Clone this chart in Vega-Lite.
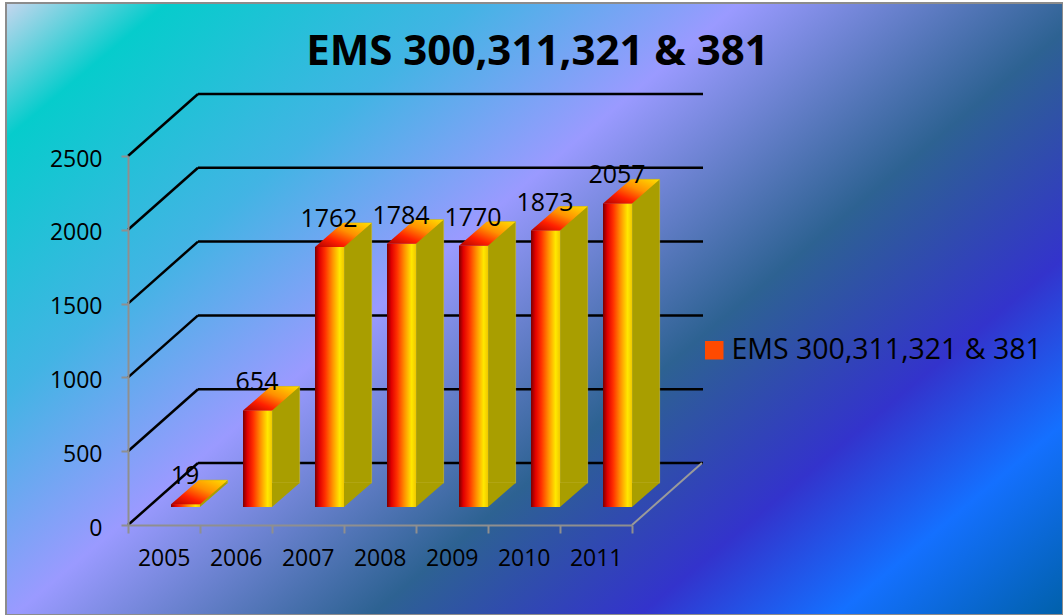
{
  "$schema": "https://vega.github.io/schema/vega-lite/v6.json",
  "width": 1057,
  "height": 612,
  "autosize": {"type": "none"},
  "padding": {"left": 6, "top": 3, "right": 0, "bottom": 0},
  "background": "white",
  "config": {"view": {"stroke": null}, "font": "Open Sans"},
  "title": {"text": "EMS 300,311,321 & 381", "font": "Open Sans", "fontSize": 42, "fontWeight": "bold", "color": "black", "anchor": "middle", "offset": -72, "dx": 3},
  "datasets": {
    "bars": [
      {"year": "2005", "value": 19},
      {"year": "2006", "value": 654},
      {"year": "2007", "value": 1762},
      {"year": "2008", "value": 1784},
      {"year": "2009", "value": 1770},
      {"year": "2010", "value": 1873},
      {"year": "2011", "value": 2057}
    ],
    "grid": [{"v": 0}, {"v": 500}, {"v": 1000}, {"v": 1500}, {"v": 2000}, {"v": 2500}],
    "bg": [{"k": 1}]
  },
  "layer": [
    {
      "data": {"name": "bg"},
      "mark": {"type": "rect", "stroke": "#8c8c8c", "strokeWidth": 2,
        "fill": {"gradient": "linear", "x1": 0, "y1": 0, "x2": 1.15, "y2": 0.79, "stops": [
          {"offset": 0, "color": "#c6d6ee"},
          {"offset": 0.09, "color": "#06cccc"},
          {"offset": 0.26, "color": "#42b4e4"},
          {"offset": 0.41, "color": "#9a9aff"},
          {"offset": 0.61, "color": "#2d6292"},
          {"offset": 0.76, "color": "#3333cc"},
          {"offset": 0.87, "color": "#1470ff"},
          {"offset": 1, "color": "#0060a8"}]}},
      "encoding": {}
    },
    {
      "data": {"name": "grid"},
      "mark": {"type": "rule", "color": "#000000", "strokeWidth": 2.5, "xOffset": -36, "x2Offset": 34, "y2Offset": -62},
      "encoding": {
        "x": {"datum": "2005", "type": "ordinal"},
        "x2": {"datum": "2005"},
        "y": {"field": "v", "type": "quantitative", "title": null},
        "y2": {"field": "v"}
      }
    },
    {
      "data": {"name": "grid"},
      "mark": {"type": "rule", "color": "#000000", "strokeWidth": 2.5, "xOffset": 34, "x2Offset": 107, "yOffset": -62, "y2Offset": -62},
      "encoding": {
        "x": {"datum": "2005", "type": "ordinal"},
        "x2": {"datum": "2011"},
        "y": {"field": "v", "type": "quantitative", "title": null},
        "y2": {"field": "v"}
      }
    },
    {
      "data": {"name": "bg"},
      "mark": {"type": "rule", "color": "#9a9a9a", "strokeWidth": 2, "xOffset": 36, "x2Offset": 106, "y2Offset": -62},
      "encoding": {
        "x": {"datum": "2011", "type": "ordinal"},
        "x2": {"datum": "2011"},
        "y": {"datum": 0, "type": "quantitative"},
        "y2": {"datum": 0}
      }
    },
    {
      "data": {"name": "bars"},
      "mark": {"type": "bar", "fill": "#a99e00", "stroke": "#bdb030", "strokeWidth": 0.8, "width": 27.6, "xOffset": 49.8, "yOffset": -42, "y2Offset": -42},
      "encoding": {
        "x": {"field": "year", "type": "ordinal", "title": null},
        "y": {"field": "value", "type": "quantitative", "title": null},
        "y2": {"datum": 0}
      }
    },
    {
      "data": {"name": "bars"},
      "mark": {"type": "point", "shape": "M-1,-0.87 L-1,0.87 L1,-0.87 Z", "size": 762, "filled": true, "fill": "#a99e00", "opacity": 1, "strokeWidth": 0, "xOffset": 49.8, "yOffset": -30},
      "encoding": {
        "x": {"field": "year", "type": "ordinal", "title": null},
        "y": {"datum": 0, "type": "quantitative"}
      }
    },
    {
      "data": {"name": "bars"},
      "mark": {"type": "bar", "width": 28, "xOffset": 21.5, "yOffset": -18, "y2Offset": -18, "opacity": 1},
      "encoding": {
        "x": {"field": "year", "type": "ordinal", "title": null},
        "y": {"field": "value", "type": "quantitative", "title": null},
        "y2": {"datum": 0},
        "color": {"datum": "EMS 300,311,321 & 381", "type": "nominal",
          "scale": {"range": ["#ff4a00"]},
          "legend": {"orient": "none", "legendX": 694, "legendY": 333, "title": null, "symbolType": "square", "symbolSize": 342, "labelFont": "Open Sans", "labelFontSize": 28.5, "labelColor": "#000000", "labelOffset": 3, "padding": 0, "symbolStrokeWidth": 0, "symbolOpacity": 1, "labelLimit": 400}
        }
      }
    },
    {
      "data": {"name": "bars"},
      "mark": {"type": "bar", "width": 29, "xOffset": 21.5, "yOffset": -18, "y2Offset": -18,
        "fill": {"gradient": "linear", "x1": 0, "y1": 0, "x2": 1, "y2": 0, "stops": [
          {"offset": 0, "color": "#7a0000"},
          {"offset": 0.15, "color": "#e00000"},
          {"offset": 0.35, "color": "#ff3000"},
          {"offset": 0.6, "color": "#ff9000"},
          {"offset": 0.85, "color": "#ffe800"},
          {"offset": 1, "color": "#f0c800"}]}},
      "encoding": {
        "x": {"field": "year", "type": "ordinal", "title": null,
          "scale": {"domain": ["2005", "2006", "2007", "2008", "2009", "2010", "2011"], "range": [122, 626], "paddingInner": 0, "paddingOuter": 0},
          "axis": {"zindex": 2, "offset": -90, "tickBand": "extent", "tickSize": 8, "labelAngle": 0, "labelOffset": 26, "labelFont": "Open Sans", "labelFontSize": 23, "labelColor": "#000000", "labelPadding": 25, "domainColor": "#8f8f8f", "domainWidth": 2, "tickColor": "#8f8f8f", "tickWidth": 2, "grid": false, "title": null}},
        "y": {"field": "value", "type": "quantitative", "title": null,
          "scale": {"domain": [0, 2500], "range": [522, 153], "nice": false, "zero": true},
          "axis": {"zindex": 2, "values": [0, 500, 1000, 1500, 2000, 2500], "format": "d", "offset": -122, "tickSize": 7, "labelOffset": 3, "labelFont": "Open Sans", "labelFontSize": 23, "labelColor": "#000000", "labelPadding": 19, "domainColor": "#8f8f8f", "domainWidth": 2, "tickColor": "#8f8f8f", "tickWidth": 2, "grid": false, "title": null}},
        "y2": {"datum": 0}
      }
    },
    {
      "data": {"name": "bars"},
      "mark": {"type": "point", "shape": "M-1,0.424 L0.025,0.424 L1,-0.424 L-0.025,-0.424 Z", "size": 3204, "filled": true, "opacity": 1, "strokeWidth": 0, "xOffset": 35.3, "yOffset": -30,
        "fill": {"gradient": "linear", "x1": 0, "y1": 1, "x2": 1, "y2": 0, "stops": [
          {"offset": 0, "color": "#b00000"},
          {"offset": 0.3, "color": "#ff2000"},
          {"offset": 0.6, "color": "#ff9000"},
          {"offset": 1, "color": "#ffe000"}]}},
      "encoding": {
        "x": {"field": "year", "type": "ordinal", "title": null},
        "y": {"field": "value", "type": "quantitative", "title": null}
      }
    },
    {
      "data": {"name": "bars"},
      "mark": {"type": "text", "font": "Open Sans", "fontSize": 25, "baseline": "alphabetic", "align": "center", "xOffset": 21, "yOffset": -38, "color": "#000000"},
      "encoding": {
        "x": {"field": "year", "type": "ordinal", "title": null},
        "y": {"field": "value", "type": "quantitative", "title": null},
        "text": {"field": "value", "type": "quantitative"}
      }
    }
  ]
}
